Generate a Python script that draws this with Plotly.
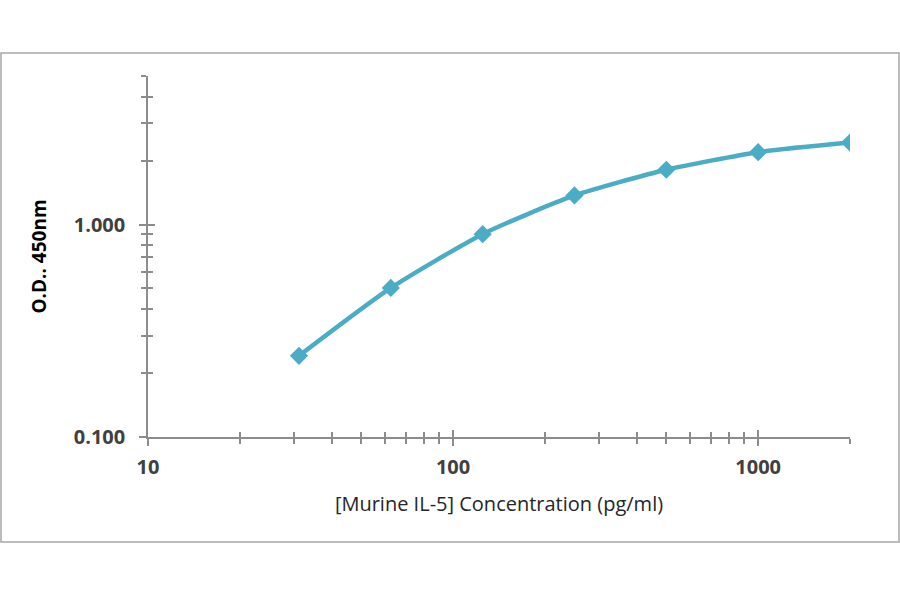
import math
import plotly.graph_objects as go

concentration = [31.25, 62.5, 125, 250, 500, 1000, 2000]
od450 = [0.241, 0.503, 0.901, 1.37, 1.81, 2.19, 2.43]

x_major = [10, 100, 1000]
x_major_labels = ["10", "100", "1000"]
x_minor = [20, 30, 40, 50, 60, 70, 80, 90, 200, 300, 400, 500, 600, 700, 800, 900, 2000]
y_major = [0.1, 1.0]
y_major_labels = ["0.100", "1.000"]
y_minor = [0.2, 0.3, 0.4, 0.5, 0.6, 0.7, 0.8, 0.9, 2, 3, 4, 5]

x_title = "[Murine IL-5] Concentration (pg/ml)"
y_title = "O.D.. 450nm"

line_color = "#4BACC6"
axis_color = "#8C8C8C"
label_color = "#404040"
font_family = "Open Sans"

xr = [math.log10(10), math.log10(2000)]
yr = [math.log10(0.1), math.log10(5)]

fig = go.Figure()
fig.add_trace(go.Scatter(
    x=concentration, y=od450, mode="lines+markers",
    line=dict(color=line_color, width=4.5, shape="spline", smoothing=0.6),
    marker=dict(symbol="diamond", size=14, color=line_color),
    showlegend=False, hoverinfo="x+y",
))
# invisible trace to activate overlay axes
fig.add_trace(go.Scatter(x=[10], y=[0.1], xaxis="x2", yaxis="y2",
                         mode="markers", marker=dict(opacity=0), showlegend=False,
                         hoverinfo="skip"))

common = dict(showgrid=False, zeroline=False, showline=True, linecolor=axis_color,
              linewidth=1.5)

fig.update_layout(
    width=900, height=594,
    paper_bgcolor="white", plot_bgcolor="white",
    margin=dict(l=148, r=50, t=76, b=157),
    font=dict(family=font_family, color=label_color),
    xaxis=dict(
        type="log", range=xr, tickvals=x_major, ticktext=x_major_labels,
        ticks="outside", ticklen=7, tickcolor=axis_color, tickwidth=1.5,
        tickfont=dict(size=20, color=label_color, weight="bold"),
        ticklabelstandoff=4,
        minor=dict(tickvals=x_minor, ticks="outside", ticklen=5,
                   tickcolor=axis_color, tickwidth=1.5),
        title=dict(text=x_title, font=dict(size=20, color="#262626"), standoff=18),
        **common,
    ),
    yaxis=dict(
        type="log", range=yr, tickvals=y_major, ticktext=y_major_labels,
        ticks="outside", ticklen=7, tickcolor=axis_color, tickwidth=1.5,
        tickfont=dict(size=20, color=label_color, weight="bold"),
        ticklabelstandoff=10,
        minor=dict(tickvals=y_minor, ticks="outside", ticklen=5,
                   tickcolor=axis_color, tickwidth=1.5),
        title=dict(text=y_title, font=dict(size=19, color="#000000", weight="bold"),
                   standoff=22),
        **common,
    ),
    xaxis2=dict(
        type="log", range=xr, overlaying="x", anchor="y2", side="bottom",
        tickvals=x_major, ticks="inside", ticklen=7, tickcolor=axis_color,
        tickwidth=1.5, showticklabels=False,
        minor=dict(tickvals=x_minor, ticks="inside", ticklen=5,
                   tickcolor=axis_color, tickwidth=1.5),
        showgrid=False, zeroline=False, showline=False,
    ),
    yaxis2=dict(
        type="log", range=yr, overlaying="y", anchor="x2", side="left",
        tickvals=y_major, ticks="inside", ticklen=7, tickcolor=axis_color,
        tickwidth=1.5, showticklabels=False,
        minor=dict(tickvals=y_minor, ticks="inside", ticklen=5,
                   tickcolor=axis_color, tickwidth=1.5),
        showgrid=False, zeroline=False, showline=False,
    ),
)

# outer chart frame (paper coordinates relative to plot area)
pw, ph = 900 - 148 - 50, 594 - 76 - 157
fig.add_shape(type="rect", xref="paper", yref="paper",
              x0=(1 - 148) / pw, x1=(899 - 148) / pw,
              y0=(437 - 542) / ph, y1=(437 - 53) / ph,
              line=dict(color="#A6A6A6", width=1.5), fillcolor="rgba(0,0,0,0)",
              layer="below")

fig.write_html("out.html", config={"displayModeBar": False},
               post_script="document.body.style.margin='0';document.body.style.padding='0';")
